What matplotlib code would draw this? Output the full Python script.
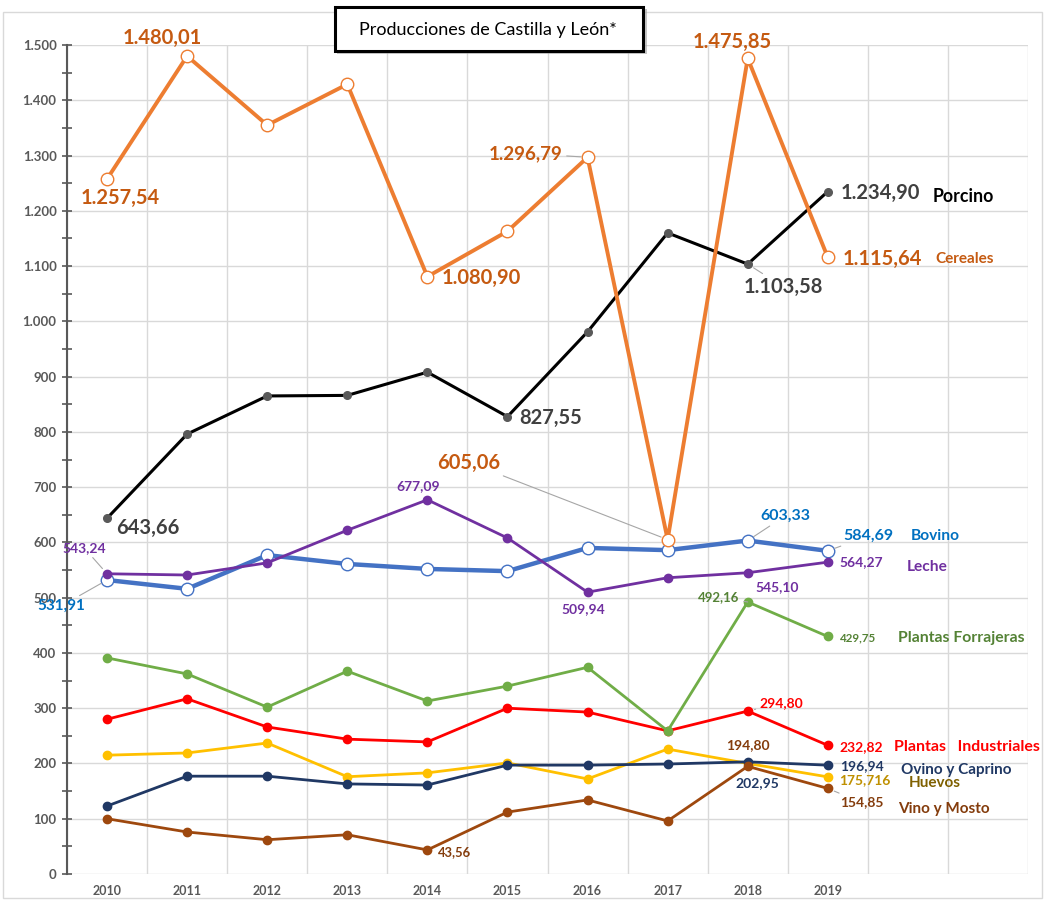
import matplotlib
matplotlib.use("Agg")
import matplotlib.pyplot as plt
from matplotlib.patches import Rectangle
from matplotlib.ticker import FixedLocator, MultipleLocator

plt.rcParams['font.family'] = ['Lato', 'DejaVu Sans']

# ---------------- data ----------------
years = ["2010", "2011", "2012", "2013", "2014", "2015", "2016", "2017", "2018", "2019", "", ""]
y_ticks = [0, 100, 200, 300, 400, 500, 600, 700, 800, 900, 1000, 1100, 1200, 1300, 1400, 1500]

cereales = [1257.54, 1480.01, 1355, 1429, 1080.90, 1163, 1296.79, 605.06, 1475.85, 1115.64]
porcino = [643.66, 796, 865, 866, 908, 827.55, 981, 1160, 1103.58, 1234.90]
bovino = [531.91, 516, 577, 561, 552, 548, 590, 586, 603.33, 584.69]
leche = [543.24, 541, 563, 622, 677.09, 608, 509.94, 536, 545.10, 564.27]
forrajeras = [391, 362, 302, 367, 313, 340, 374, 259, 492.16, 429.75]
industriales = [280, 317, 266, 244, 239, 300, 293, 259, 294.80, 232.82]
huevos = [215, 219, 237, 176, 183, 201, 172, 226, 200, 175.716]
ovino = [123, 177, 177, 163, 161, 197, 197, 199, 202.95, 196.94]
vino = [100, 76, 62, 71, 43.56, 112, 134, 96, 194.80, 154.85]

series_names = ["Porcino", "Cereales", "Bovino", "Leche", "Plantas Forrajeras",
                "Plantas   Industriales", "Ovino y Caprino", "Huevos", "Vino y Mosto"]

# ---------------- figure ----------------
W, H = 1044, 900
fig = plt.figure(figsize=(W / 100, H / 100), dpi=100)
ax = fig.add_axes([67 / W, 1 - 874 / H, (1028 - 67) / W, (874 - 45) / H])

x = list(range(len(cereales)))

C_CER, C_CER_T = "#ED7D31", "#C55A11"
C_POR, C_POR_M, C_POR_T = "#000000", "#595959", "#404040"
C_BOV, C_BOV_T = "#4472C4", "#0070C0"
C_LEC = "#7030A0"
C_FOR, C_FOR_T = "#70AD47", "#548235"
C_IND = "#FF0000"
C_HUE, C_HUE_T, C_HUE_N = "#FFC000", "#BF9000", "#7F6000"
C_OVI = "#203864"
C_VIN, C_VIN_T = "#9E480E", "#843C0C"

ax.plot(x, bovino, color=C_BOV, lw=3.2, marker='o', ms=9, mfc='white', mec=C_BOV, mew=1.0, zorder=3)
ax.plot(x, porcino, color=C_POR, lw=2.2, marker='o', ms=5.5, mfc=C_POR_M, mec=C_POR_M, zorder=3)
ax.plot(x, cereales, color=C_CER, lw=2.8, marker='o', ms=9, mfc='white', mec=C_CER, mew=1.0, zorder=4)
ax.plot(x, leche, color=C_LEC, lw=2.0, marker='o', ms=6, mfc=C_LEC, mec=C_LEC, zorder=4)
ax.plot(x, industriales, color=C_IND, lw=2.0, marker='o', ms=6, mfc=C_IND, mec=C_IND, zorder=4)
ax.plot(x, forrajeras, color=C_FOR, lw=2.0, marker='o', ms=6, mfc=C_FOR, mec=C_FOR, zorder=4)
ax.plot(x, huevos, color=C_HUE, lw=2.0, marker='o', ms=6, mfc=C_HUE, mec=C_HUE, zorder=4)
ax.plot(x, ovino, color=C_OVI, lw=2.0, marker='o', ms=6, mfc=C_OVI, mec=C_OVI, zorder=4)
ax.plot(x, vino, color=C_VIN, lw=2.0, marker='o', ms=6, mfc=C_VIN, mec=C_VIN, zorder=4)

# ---------------- axes styling ----------------
ax.set_xlim(-0.5, len(years) - 0.5)
ax.set_ylim(0, 1500)
ax.set_xticks(range(len(years)), labels=years)
ax.xaxis.set_minor_locator(FixedLocator([i - 0.5 for i in range(len(years) + 1)]))
ax.tick_params(axis='x', which='both', length=0, pad=8, labelsize=9, labelcolor='#595959')

ax.set_yticks(y_ticks, labels=[f"{v:,}".replace(",", ".") for v in y_ticks])
ax.yaxis.set_minor_locator(MultipleLocator(50))
ax.tick_params(axis='y', which='both', direction='inout', length=7, width=1.2, color='#595959',
               pad=4, labelsize=9.5, labelcolor='#595959')
plt.setp(ax.get_xticklabels(), fontweight='bold')
plt.setp(ax.get_yticklabels(), fontweight='bold')

ax.grid(True, which='major', axis='y', color='#D9D9D9', lw=1.0)
ax.grid(True, which='minor', axis='x', color='#D9D9D9', lw=1.0)
ax.set_axisbelow(True)
for s in ['top', 'right', 'bottom']:
    ax.spines[s].set_visible(False)
ax.spines['left'].set_color('#595959')
ax.spines['left'].set_linewidth(1.5)

# ---------------- data labels ----------------
lead = dict(arrowstyle='-', color='#A6A6A6', lw=0.8, shrinkA=1, shrinkB=5)


def lab(i, v, text, dx, dy, color, size, ha='center', leader=False):
    kw = dict(xy=(i, v), xytext=(dx, dy), textcoords='offset pixels', ha=ha, va='center',
              color=color, fontsize=size, fontweight='bold', zorder=6)
    if leader:
        kw['arrowprops'] = lead
    ax.annotate(text, **kw)


BIG = 14.5
# Cereales
lab(0, cereales[0], "1.257,54", 13, -19, C_CER_T, BIG)
lab(1, cereales[1], "1.480,01", -25, 18, C_CER_T, BIG)
lab(4, cereales[4], "1.080,90", 14, -1, C_CER_T, BIG, ha='left')
lab(6, cereales[6], "1.296,79", -25, 4, C_CER_T, 13.5, ha='right', leader=True)
lab(7, cereales[7], "605,06", -167, 77, C_CER_T, BIG, ha='right', leader=True)
lab(8, cereales[8], "1.475,85", -15, 16, C_CER_T, BIG)
lab(9, cereales[9], "1.115,64", 15, -2, C_CER_T, BIG, ha='left')
# Porcino
lab(0, porcino[0], "643,66", 9, -10, C_POR_T, BIG, ha='left')
lab(5, porcino[5], "827,55", 12, -1, C_POR_T, BIG, ha='left')
lab(8, porcino[8], "1.103,58", 36, -23, C_POR_T, BIG, leader=True)
lab(9, porcino[9], "1.234,90", 13, -1, C_POR_T, BIG, ha='left')
# Bovino
lab(0, bovino[0], "531,91", -22, -26, C_BOV_T, 11, ha='right', leader=True)
lab(8, bovino[8], "603,33", 13, 25, C_BOV_T, 11.5, ha='left', leader=True)
lab(9, bovino[9], "584,69", 16, 15, C_BOV_T, 11.5, ha='left', leader=True)
# Leche
lab(0, leche[0], "543,24", -23, 26, C_LEC, 10, leader=True)
lab(4, leche[4], "677,09", -9, 14, C_LEC, 10)
lab(6, leche[6], "509,94", -4, -17, C_LEC, 10)
lab(8, leche[8], "545,10", 29, -14, C_LEC, 10)
lab(9, leche[9], "564,27", 12, 0, C_LEC, 10, ha='left')
# Forrajeras
lab(8, forrajeras[8], "492,16", -8, 5, C_FOR_T, 9.5, ha='right', leader=True)
lab(9, forrajeras[9], "429,75", 12, -1, C_FOR_T, 8.3, ha='left')
# Industriales
lab(8, industriales[8], "294,80", 12, 8, C_IND, 10, ha='left', leader=True)
lab(9, industriales[9], "232,82", 12, -2, C_IND, 10, ha='left')
# Ovino
lab(8, ovino[8], "202,95", 10, -21, C_OVI, 10)
lab(9, ovino[9], "196,94", 12, -1, C_OVI, 10, ha='left')
# Huevos
lab(9, huevos[9], "175,716", 11, -3, C_HUE_T, 10, ha='left')
# Vino
lab(4, vino[4], "43,56", 11, -2, C_VIN_T, 9.4, ha='left')
lab(8, vino[8], "194,80", 0, 21, C_VIN_T, 10)
lab(9, vino[9], "154,85", 12, -14, C_VIN_T, 10, ha='left', leader=True)

# ---------------- series name labels ----------------
def pxx(px):
    return (px - 107) / 80.0


def pxy(py):
    return (874 - py) / 0.5527


name_specs = [
    (series_names[0], 932, 196, '#000000', 12.8),
    (series_names[1], 934, 259, C_CER_T, 11),
    (series_names[2], 910, 536, C_BOV_T, 11.2),
    (series_names[3], 906, 567, C_LEC, 11.2),
    (series_names[4], 897, 638, C_FOR_T, 11.3),
    (series_names[5], 893, 747, C_IND, 11.5),
    (series_names[6], 900, 770, C_OVI, 11),
    (series_names[7], 908, 783, C_HUE_N, 11),
    (series_names[8], 897, 809, C_VIN_T, 11),
]
for name, px, py, col, fs in name_specs:
    ax.text(pxx(px), pxy(py), name, ha='left', va='center', color=col, fontsize=fs,
            fontweight='bold', zorder=7, clip_on=False)

# ---------------- frame and title ----------------
fig.patches.append(Rectangle((3 / W, 1 - 898 / H), (1042 - 3) / W, (898 - 12) / H,
                             transform=fig.transFigure, fill=False, ec='#D9D9D9', lw=1.0))
# shadow
fig.patches.append(Rectangle((337 / W, 1 - 54 / H), (645 - 335) / W, (52 - 7) / H,
                             transform=fig.transFigure, fc='#A0A0A0', ec='none', alpha=0.6, zorder=8))
fig.patches.append(Rectangle((335 / W, 1 - 51 / H), (643 - 335) / W, (51 - 7) / H,
                             transform=fig.transFigure, fc='white', ec='black', lw=2.2, zorder=9))
fig.text(488 / W, 1 - 30 / H, "Producciones de Castilla y León*", ha='center', va='center',
         fontsize=13, color='#000000', zorder=10)

fig.savefig("out.png", dpi=100)
